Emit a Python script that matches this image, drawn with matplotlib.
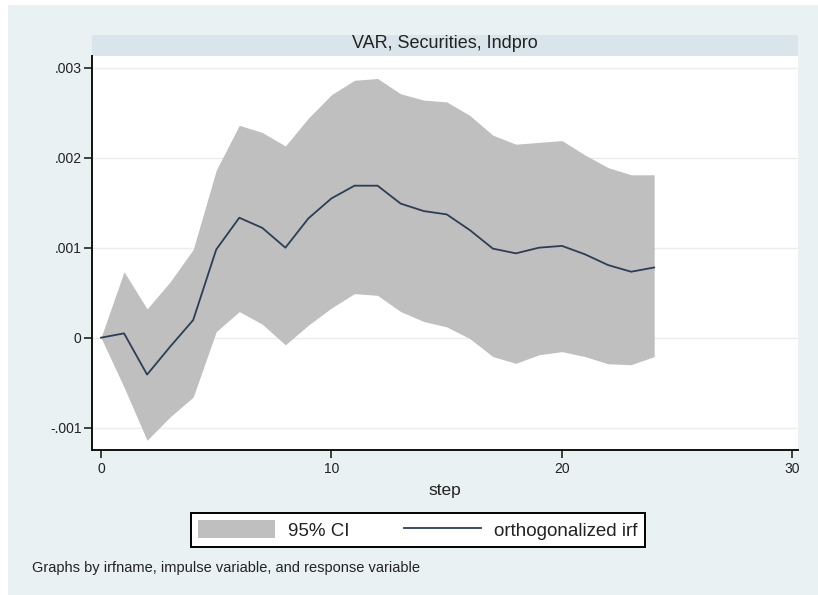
import matplotlib
matplotlib.use("Agg")
import matplotlib.pyplot as plt
from matplotlib.patches import Patch, Rectangle
from matplotlib.lines import Line2D

# IRF: impulse Securities, response Indpro (values in thousandths)
steps = [0, 1, 2, 3, 4, 5, 6, 7, 8, 9, 10, 11, 12,
         13, 14, 15, 16, 17, 18, 19, 20, 21, 22, 23, 24]
irf = [0.0, 0.048, -0.41, -0.10, 0.196, 0.98, 1.333, 1.22, 1.0, 1.326, 1.548, 1.689, 1.689,
       1.49, 1.407, 1.37, 1.196, 0.99, 0.937, 1.0, 1.02, 0.926, 0.807, 0.733, 0.78]
ci_upper = [0.0, 0.733, 0.32, 0.62, 0.98, 1.86, 2.36, 2.28, 2.13, 2.44, 2.70, 2.86, 2.88,
            2.71, 2.64, 2.62, 2.47, 2.25, 2.15, 2.17, 2.19, 2.03, 1.89, 1.81, 1.81]
ci_lower = [0.0, -0.55, -1.14, -0.88, -0.66, 0.067, 0.29, 0.15, -0.08, 0.14, 0.33, 0.49, 0.47,
            0.29, 0.18, 0.12, -0.01, -0.21, -0.285, -0.19, -0.155, -0.21, -0.29, -0.30, -0.21]

yticks = [-0.001, 0.0, 0.001, 0.002, 0.003]
ytick_labels = ["-.001", "0", ".001", ".002", ".003"]
xticks = [0, 10, 20, 30]

panel_title = "VAR, Securities, Indpro"
note = "Graphs by irfname, impulse variable, and response variable"

plt.rcParams["font.family"] = ["Liberation Sans", "DejaVu Sans"]

W, H = 818, 595
bg = "#eaf1f3"
strip = "#d9e5eb"
ci_color = "#bfbfbf"
line_color = "#2c3e55"

fig = plt.figure(figsize=(W / 100, H / 100), dpi=100)
fig.patch.set_facecolor("white")


def fx(px):
    return px / W


def fy(py):
    return 1 - py / H


# outer background (thin white border at top/left like the screenshot)
fig.add_artist(Rectangle((fx(8), 0), 1, fy(5), transform=fig.transFigure,
                         facecolor=bg, edgecolor="none", zorder=-10))

# panel title strip
fig.add_artist(Rectangle((fx(92), fy(56)), fx(798) - fx(92), fy(35) - fy(56),
                         transform=fig.transFigure, facecolor=strip,
                         edgecolor="none", zorder=-5))
fig.text(fx(445), fy(43), panel_title, ha="center", va="center", fontsize=13, color="#222222")

ax = fig.add_axes([fx(92), fy(450), fx(798) - fx(92), fy(56) - fy(450)])
ax.set_facecolor("white")

lo = [v * 1e-3 for v in ci_lower]
hi = [v * 1e-3 for v in ci_upper]
mid = [v * 1e-3 for v in irf]

ax.fill_between(steps, lo, hi, color=ci_color, linewidth=0, zorder=2)
ax.plot(steps, mid, color=line_color, linewidth=1.3, zorder=3)

ax.set_xlim(-0.39, 30.24)
ax.set_ylim(-0.001248, 0.00313)
ax.set_xticks(xticks)
ax.set_xticklabels([str(t) for t in xticks])
ax.set_yticks(yticks)
ax.set_yticklabels(ytick_labels)

ax.yaxis.grid(True, color="#ececec", linewidth=1.0, zorder=1)
ax.xaxis.grid(False)
ax.set_axisbelow(True)

for side in ["top", "right"]:
    ax.spines[side].set_visible(False)
for side in ["left", "bottom"]:
    ax.spines[side].set_color("#111111")
    ax.spines[side].set_linewidth(1.4)

ax.tick_params(axis="both", direction="out", length=5.5, width=1.1,
               color="#111111", labelsize=10, labelcolor="#222222")
ax.tick_params(axis="y", pad=2)
ax.tick_params(axis="x", pad=3)

fig.text(fx(445), fy(491), "step", ha="center", va="center", fontsize=12.5, color="#222222")

handles = [Patch(facecolor=ci_color, edgecolor="none"),
           Line2D([0], [0], color=line_color, linewidth=1.3)]
leg = fig.legend(handles, ["95% CI", "orthogonalized irf"], ncol=2,
                 loc="center", bbox_to_anchor=(fx(418), fy(530)),
                 fontsize=13.5, frameon=True, fancybox=False,
                 handlelength=4.1, handleheight=1.1, handletextpad=0.7,
                 columnspacing=2.9, borderpad=0.4)
leg.get_frame().set_edgecolor("black")
leg.get_frame().set_linewidth(1.4)
leg.get_frame().set_facecolor("white")
leg.get_frame().set_alpha(1)
for t in leg.get_texts():
    t.set_color("#222222")

fig.text(fx(32), fy(568), note, ha="left", va="center", fontsize=10.5, color="#222222")

fig.savefig("out.png", dpi=100, facecolor=fig.get_facecolor())
